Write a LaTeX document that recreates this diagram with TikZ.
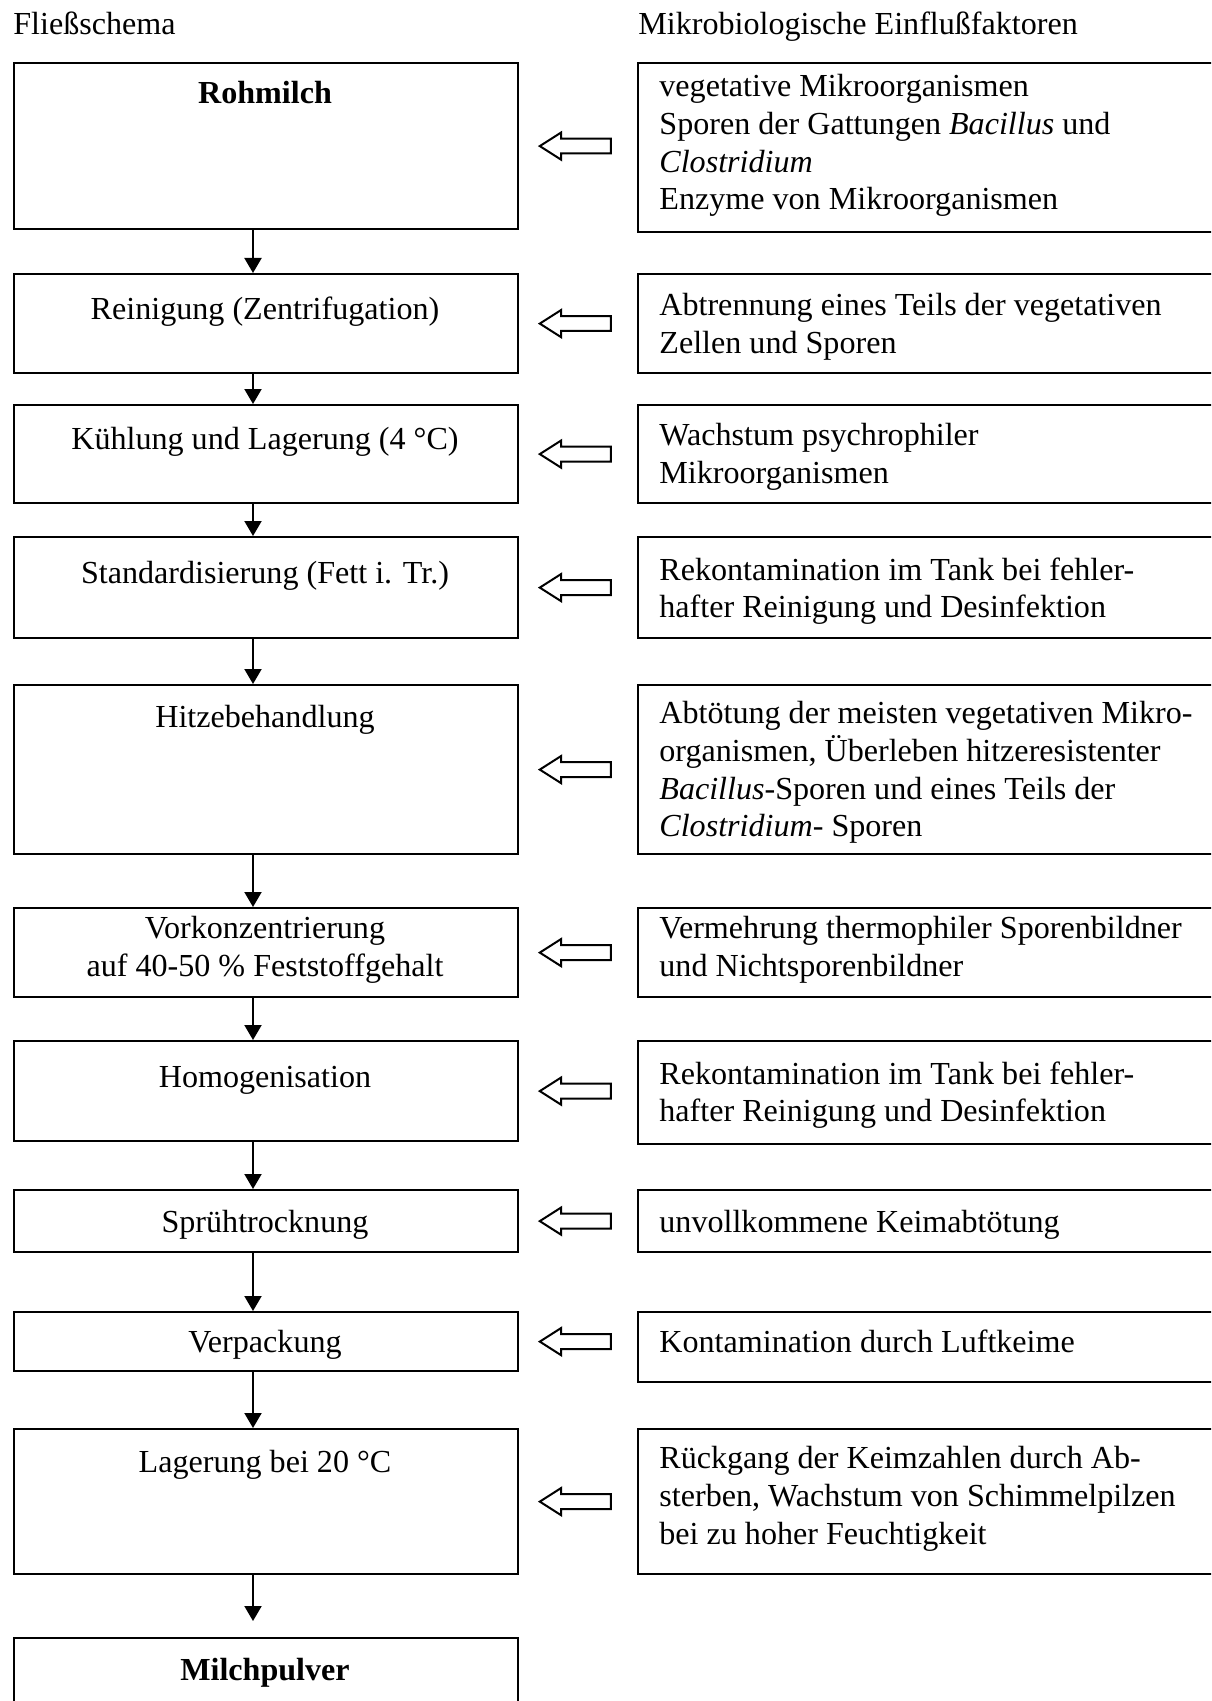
\documentclass[tikz,border=0pt]{standalone}
\usepackage{fontspec}
\setmainfont{Liberation Serif}
\usetikzlibrary{shapes.arrows,arrows.meta,calc,positioning}

\begin{document}
\begin{tikzpicture}[x=0.5pt,y=-0.5pt,
    font=\fontsize{16.05}{18.85}\selectfont,
    stepbox/.style={draw,line width=1.1pt,anchor=north west,inner sep=0pt,minimum width=252pt},
    factbox/.style={draw,line width=1.1pt,anchor=north west,inner sep=0pt,minimum width=301.5pt},
    steptext/.style={anchor=north,inner sep=0pt,align=center,execute at begin node={\rule{0pt}{13pt}}},
    facttext/.style={anchor=north west,inner sep=0pt,align=left,execute at begin node={\rule{0pt}{13pt}}},
    flow/.style={line width=1pt,-{Triangle[width=8.5pt,length=7.5pt]}},
    influence/.style={draw,line width=1pt,single arrow,shape border rotate=180,single arrow head extend=3.1pt,single arrow tip angle=65,minimum height=35.5pt,inner xsep=0pt,inner ysep=3.2pt,xshift=1.5pt}]
      \clip (0,0) rectangle (1211,1701);
      \node[anchor=base west,inner sep=0pt] (kopfl) at (13,35) {Fließschema};
      \node[anchor=base west,inner sep=0pt] (kopfr) at (638,35) {Mikrobiologische Einflußfaktoren};
      % Fliessschema
      \node[stepbox,minimum height=83pt] (rohmilch) at (13,62) {};
      \node[stepbox,minimum height=49.5pt] (reinigung) at (13,273) {};
      \node[stepbox,minimum height=49pt] (kuehlung) at (13,404) {};
      \node[stepbox,minimum height=50.5pt] (standard) at (13,536) {};
      \node[stepbox,minimum height=84.5pt] (hitze) at (13,684) {};
      \node[stepbox,minimum height=44.5pt] (vorkonz) at (13,907) {};
      \node[stepbox,minimum height=50pt] (homog) at (13,1040) {};
      \node[stepbox,minimum height=31pt] (spruehen) at (13,1189) {};
      \node[stepbox,minimum height=29.5pt] (verpackung) at (13,1311) {};
      \node[stepbox,minimum height=72.5pt] (lagerung) at (13,1428) {};
      \node[stepbox,minimum height=41.5pt] (pulver) at (13,1637) {};
      \node[steptext] (trohmilch) at (265,77) {\textbf{Rohmilch}};
      \node[steptext] (treinigung) at (265,293) {Reinigung (Zentrifugation)};
      \node[steptext] (tkuehlung) at (265,423) {Kühlung und Lagerung (4 °C)};
      \node[steptext] (tstandard) at (265,557) {Standardisierung (Fett i. Tr.)};
      \node[steptext] (thitze) at (265,701) {Hitzebehandlung};
      \node[steptext] (tvorkonz) at (265,916) {Vorkonzentrierung\\auf 40-50 \%  Feststoffgehalt};
      \node[steptext] (thomog) at (265,1061) {Homogenisation};
      \node[steptext] (tspruehen) at (265,1206) {Sprühtrocknung};
      \node[steptext] (tverpackung) at (265,1326) {Verpackung};
      \node[steptext] (tlagerung) at (265,1446) {Lagerung bei 20 °C};
      \node[steptext] (tpulver) at (265,1654) {\textbf{Milchpulver}};
      % Einflussfaktoren
      \node[factbox,minimum height=84.5pt] (frohmilch) at (637,62) {};
      \node[factbox,minimum height=49.5pt] (freinigung) at (637,273) {};
      \node[factbox,minimum height=49pt] (fkuehlung) at (637,404) {};
      \node[factbox,minimum height=50.5pt] (fstandard) at (637,536) {};
      \node[factbox,minimum height=84.5pt] (fhitze) at (637,684) {};
      \node[factbox,minimum height=44.5pt] (fvorkonz) at (637,907) {};
      \node[factbox,minimum height=51.5pt] (fhomog) at (637,1040) {};
      \node[factbox,minimum height=31pt] (fspruehen) at (637,1189) {};
      \node[factbox,minimum height=35pt] (fverpackung) at (637,1311) {};
      \node[factbox,minimum height=72.5pt] (flagerung) at (637,1428) {};
      \node[facttext] (grohmilch) at (659,74) {vegetative Mikroorganismen\\Sporen der Gattungen \textit{Bacillus} und\\\textit{Clostridium}\\Enzyme von Mikroorganismen};
      \node[facttext] (greinigung) at (659,293) {Abtrennung eines Teils der vegetativen\\Zellen und Sporen};
      \node[facttext] (gkuehlung) at (659,423) {Wachstum psychrophiler\\Mikroorganismen};
      \node[facttext] (gstandard) at (659,557) {Rekontamination im Tank bei fehler-\\hafter Reinigung und Desinfektion};
      \node[facttext] (ghitze) at (659,701) {Abtötung der meisten vegetativen Mikro-\\organismen, Überleben hitzeresistenter\\\textit{Bacillus}-Sporen und eines Teils der\\\textit{Clostridium}- Sporen};
      \node[facttext] (gvorkonz) at (659,916) {Vermehrung thermophiler Sporenbildner\\und Nichtsporenbildner};
      \node[facttext] (ghomog) at (659,1061) {Rekontamination im Tank bei fehler-\\hafter Reinigung und Desinfektion};
      \node[facttext] (gspruehen) at (659,1206) {unvollkommene Keimabtötung};
      \node[facttext] (gverpackung) at (659,1326) {Kontamination durch Luftkeime};
      \node[facttext] (glagerung) at (659,1446) {Rückgang der Keimzahlen durch Ab-\\sterben, Wachstum von Schimmelpilzen\\bei zu hoher Feuchtigkeit};
      % Pfeile
      \coordinate (ax) at (253,0);
      \draw[flow] (rohmilch.south -| ax) -- (reinigung.north -| ax);
      \draw[flow] (reinigung.south -| ax) -- (kuehlung.north -| ax);
      \draw[flow] (kuehlung.south -| ax) -- (standard.north -| ax);
      \draw[flow] (standard.south -| ax) -- (hitze.north -| ax);
      \draw[flow] (hitze.south -| ax) -- (vorkonz.north -| ax);
      \draw[flow] (vorkonz.south -| ax) -- (homog.north -| ax);
      \draw[flow] (homog.south -| ax) -- (spruehen.north -| ax);
      \draw[flow] (spruehen.south -| ax) -- (verpackung.north -| ax);
      \draw[flow] (verpackung.south -| ax) -- (lagerung.north -| ax);
      \draw[flow] (lagerung.south -| ax) -- ($(pulver.north -| ax)+(0,-16)$);
      \node[influence] (irohmilch) at ($(rohmilch.east)!0.5!(frohmilch.west |- rohmilch.east)$) {};
      \node[influence] (ireinigung) at ($(reinigung.east)!0.5!(freinigung.west |- reinigung.east)$) {};
      \node[influence] (ikuehlung) at ($(kuehlung.east)!0.5!(fkuehlung.west |- kuehlung.east)$) {};
      \node[influence] (istandard) at ($(standard.east)!0.5!(fstandard.west |- standard.east)$) {};
      \node[influence] (ihitze) at ($(hitze.east)!0.5!(fhitze.west |- hitze.east)$) {};
      \node[influence] (ivorkonz) at ($(vorkonz.east)!0.5!(fvorkonz.west |- vorkonz.east)$) {};
      \node[influence] (ihomog) at ($(homog.east)!0.5!(fhomog.west |- homog.east)$) {};
      \node[influence] (ispruehen) at ($(spruehen.east)!0.5!(fspruehen.west |- spruehen.east)$) {};
      \node[influence] (iverpackung) at ($(verpackung.east)!0.5!(fverpackung.west |- verpackung.east)$) {};
      \node[influence] (ilagerung) at ($(lagerung.east)!0.5!(flagerung.west |- lagerung.east)$) {};
\end{tikzpicture}
\end{document}
